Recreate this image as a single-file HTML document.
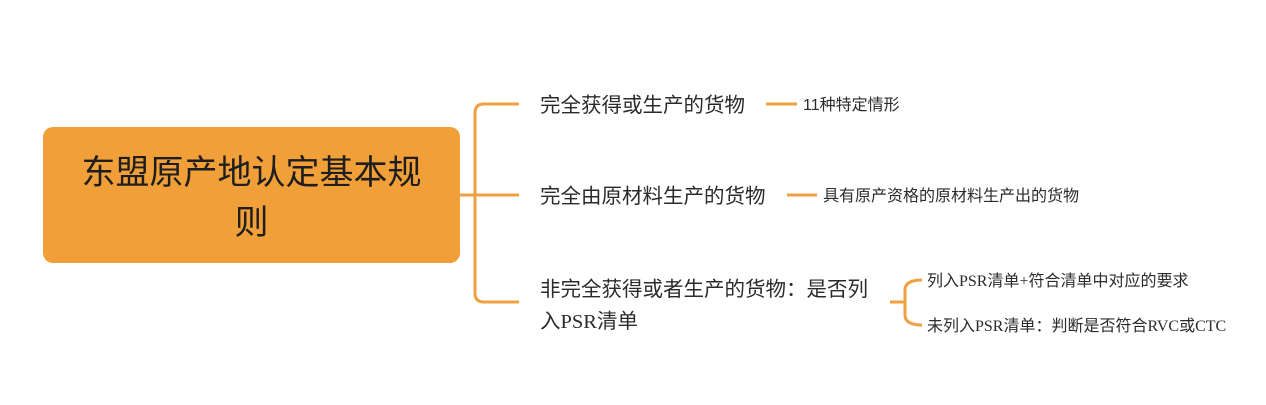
<!DOCTYPE html>
<html>
<head>
<meta charset="utf-8">
<style>
  html, body { margin:0; padding:0; background:#ffffff; }
  body { width:1266px; height:405px; position:relative; overflow:hidden; }
  .t { position:absolute; white-space:nowrap; color:#2b2b2b; }
  .sans { font-family: "Liberation Sans", "Noto Sans CJK SC", sans-serif; }
  .serif { font-family: "Liberation Serif", "Noto Sans CJK SC", serif; }
  #root {
    position:absolute; left:43px; top:127px; width:417px; height:136px;
    background:#F19F38; border-radius:10px;
  }
  #rootText {
    position:absolute; left:43px; top:148px; width:417px; text-align:center;
    font-family: "Liberation Sans", "Noto Sans CJK SC", sans-serif;
    font-size:34px; line-height:50px; color:#1e1e1e;
  }
  .child { font-size:20.5px; line-height:30px; }
  .leaf { font-size:16px; line-height:24px; }
</style>
</head>
<body>
<svg width="1266" height="405" style="position:absolute;left:0;top:0" xmlns="http://www.w3.org/2000/svg">
  <g fill="none" stroke="#F0A040" stroke-width="3" stroke-linecap="butt">
    <path d="M458,195 H519"/>
    <path d="M519,104 H484 Q475,104 475,113 V293 Q475,302 484,302 H519"/>
    <path d="M766,104 H797"/>
    <path d="M787,195 H817"/>
    <path d="M922,280 Q905,280 905,290 V315 Q905,325 922,325"/>
    <path d="M890,302 H905"/>
  </g>
</svg>

<div id="root"></div>
<div id="rootText">东盟原产地认定基本规<br>则</div>

<div class="t sans child" style="left:540px; top:91px;">完全获得或生产的货物</div>
<div class="t sans child" style="left:540px; top:182px;">完全由原材料生产的货物</div>
<div class="t child" style="left:540px; top:274px; line-height:32px; font-family:'Liberation Sans','Noto Sans CJK SC',sans-serif;">非完全获得或者生产的货物：是否列<br>入<span style="font-family:'Liberation Serif','Noto Sans CJK SC',serif;">PSR</span>清单</div>

<div class="t sans leaf" style="left:803px; top:94px;">11种特定情形</div>
<div class="t sans leaf" style="left:823px; top:185px;">具有原产资格的原材料生产出的货物</div>

<div class="t serif leaf" style="left:927px; top:270px;">列入PSR清单+符合清单中对应的要求</div>
<div class="t serif leaf" style="left:927px; top:315px;">未列入PSR清单：判断是否符合RVC或CTC</div>
</body>
</html>
